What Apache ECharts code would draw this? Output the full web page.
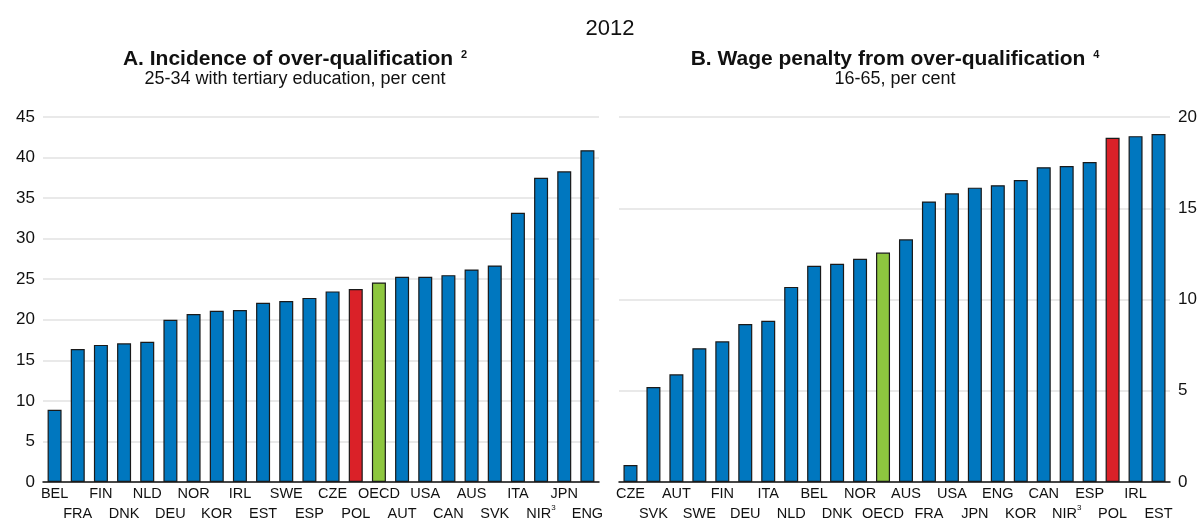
<!DOCTYPE html>
<html>
<head>
<meta charset="utf-8">
<script src="https://cdn.jsdelivr.net/npm/echarts@6/dist/echarts.min.js"></script>
<style>
  html, body { margin: 0; padding: 0; background: #fff; }
  #chart { width: 1203px; height: 521px; }
</style>
</head>
<body>
<div id="chart"></div>
<script>
// panel A: incidence of over-qualification, 25-34 with tertiary education
var catsA = ['BEL','FRA','FIN','DNK','NLD','DEU','NOR','KOR','IRL','EST','SWE','ESP',
             'CZE','POL','OECD','AUT','USA','CAN','AUS','SVK','ITA','NIR','JPN','ENG'];
var valsA = [8.9,16.4,16.9,17.1,17.3,20.0,20.7,21.1,21.2,22.1,22.3,22.7,
             23.5,23.8,24.6,25.3,25.3,25.5,26.2,26.7,33.2,37.5,38.3,40.9];
// panel B: wage penalty from over-qualification, 16-65
var catsB = ['CZE','SVK','AUT','SWE','FIN','DEU','ITA','NLD','BEL','DNK','NOR','OECD',
             'AUS','FRA','USA','JPN','ENG','KOR','CAN','NIR','ESP','POL','IRL','EST'];
var valsB = [0.93,5.2,5.9,7.33,7.71,8.66,8.83,10.69,11.85,11.96,12.23,12.57,
             13.3,15.37,15.82,16.13,16.26,16.55,17.25,17.31,17.53,18.86,18.95,19.07];
var ticksA = [0, 45, 5];
var ticksB = [0, 20, 5];

var BLUE = '#0077bf', RED = '#da2128', GREEN = '#8dc63f';

// colour each bar: POL red, OECD green, others blue
function barData(cats, vals) {
  return vals.map(function (v, i) {
    var c = BLUE;
    if (cats[i] == 'POL') c = RED;
    if (cats[i] == 'OECD') c = GREEN;
    return { value: v, itemStyle: { color: c } };
  });
}

// labels on two alternating rows, NIR gets a superscript 3
function labelFmt(value, index) {
  var s = value == 'NIR' ? 'NIR{sup|3}' : value;
  return index % 2 == 0 ? s : '\n' + s;
}

var axisLabelStyle = {
  interval: 0,
  color: '#111',
  fontSize: 14.5,
  lineHeight: 20,
  margin: 2,
  formatter: labelFmt,
  rich: { sup: { fontSize: 8, verticalAlign: 'top', padding: [0, 0, 8, 0] } }
};

var titleRich = { sup: { fontSize: 11, fontWeight: 'bold', verticalAlign: 'top', padding: [0, 0, 10, 2] } };

var myChart = echarts.init(document.getElementById('chart'));
var option = {
  animation: false,
  textStyle: { fontFamily: 'Liberation Sans, Arial, sans-serif' },
  title: [{
    text: '2012', left: 605, top: 13, textAlign: 'center',
    textStyle: { fontSize: 22, fontWeight: 'normal', color: '#111' }
  }, {
    text: 'A. Incidence of over-qualification {sup|2}',
    subtext: '25-34 with tertiary education, per cent',
    left: 290, top: 44, textAlign: 'center', itemGap: 0,
    textStyle: { fontSize: 21, fontWeight: 'bold', color: '#111', rich: titleRich },
    subtextStyle: { fontSize: 18, color: '#111' }
  }, {
    text: 'B. Wage penalty from over-qualification {sup|4}',
    subtext: '16-65, per cent',
    left: 890, top: 44, textAlign: 'center', itemGap: 0,
    textStyle: { fontSize: 21, fontWeight: 'bold', color: '#111', rich: titleRich },
    subtextStyle: { fontSize: 18, color: '#111' }
  }],
  grid: [
    { left: 43, width: 556, top: 117, bottom: 39, outerBoundsMode: 'none' },
    { left: 619, width: 551, top: 117, bottom: 39, outerBoundsMode: 'none' }
  ],
  xAxis: [{
    type: 'category', gridIndex: 0, data: catsA,
    axisLine: { lineStyle: { color: '#111', width: 1.5 } },
    axisTick: { show: false },
    axisLabel: axisLabelStyle
  }, {
    type: 'category', gridIndex: 1, data: catsB,
    axisLine: { lineStyle: { color: '#111', width: 1.5 } },
    axisTick: { show: false },
    axisLabel: axisLabelStyle
  }],
  yAxis: [{
    type: 'value', gridIndex: 0, min: ticksA[0], max: ticksA[1], interval: ticksA[2],
    axisLine: { show: false }, axisTick: { show: false },
    axisLabel: { color: '#111', fontSize: 17, margin: 8 },
    splitLine: { lineStyle: { color: '#e2e2e2', width: 1.5 } }
  }, {
    type: 'value', gridIndex: 1, position: 'right',
    min: ticksB[0], max: ticksB[1], interval: ticksB[2],
    axisLine: { show: false }, axisTick: { show: false },
    axisLabel: { color: '#111', fontSize: 17, margin: 8 },
    splitLine: { lineStyle: { color: '#e2e2e2', width: 1.5 } }
  }],
  series: [{
    type: 'bar', xAxisIndex: 0, yAxisIndex: 0,
    barWidth: 14,
    data: barData(catsA, valsA),
    itemStyle: { borderColor: '#1a1a1a', borderWidth: 1.2 }
  }, {
    type: 'bar', xAxisIndex: 1, yAxisIndex: 1,
    barWidth: 14,
    data: barData(catsB, valsB),
    itemStyle: { borderColor: '#1a1a1a', borderWidth: 1.2 }
  }]
};
myChart.setOption(option);
</script>
</body>
</html>
